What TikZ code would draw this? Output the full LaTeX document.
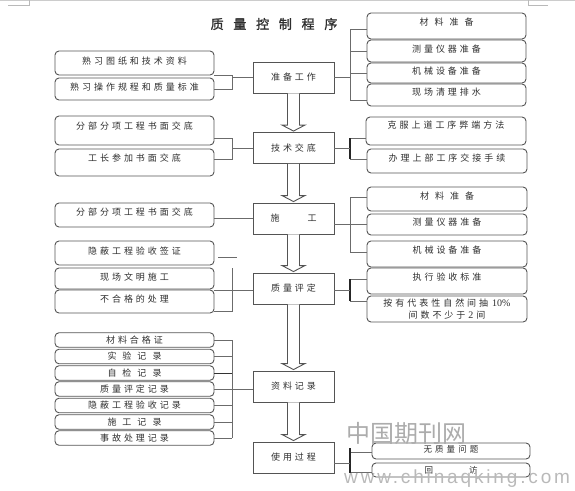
\documentclass[tikz,border=0pt]{standalone}
\usepackage{fontspec}
\usetikzlibrary{calc}
\newfontfamily\cjk[LetterSpace=33]{Noto Sans CJK SC}
\newfontfamily\cjksm[LetterSpace=36]{Noto Sans CJK SC}
\newfontfamily\cjkwm{Noto Sans CJK SC}
\newfontfamily\cjktitle[LetterSpace=75,FakeBold=1.5]{Noto Sans CJK SC}
\newfontfamily\wmfont[LetterSpace=15]{Liberation Sans}
\newfontfamily\latinnum{Liberation Serif}
\definecolor{bd}{gray}{0.33}
\definecolor{lnc}{gray}{0.42}
\definecolor{txt}{gray}{0.18}
\tikzset{
  nbox/.style={draw=bd, line width=0.9pt, inner sep=0pt, text=txt, font={\cjk\fontsize{9}{12}\selectfont}},
  rbox/.style={nbox, rounded corners=4pt},
  sbox/.style={nbox},
  wh/.style 2 args={minimum width=#1pt, minimum height=#2pt},
  tx/.style={text height=8pt, text depth=#1},
  ln/.style={draw=lnc, line width=0.8pt},
  thk/.style={draw=black!85, line width=1.4pt},
  harr/.style={draw=bd, line width=0.9pt, fill=white},
  wmk/.style={inner sep=0pt, text=gray!65},
}
\newcommand\harrowdraw[2]{%
  \draw[harr] ($(#1.south)+(-6,0)$) -- ($(#2.north)+(-6,-7)$) -- ($(#2.north)+(-11.5,-7)$)
    -- ($(#2.north)+(0,-1)$) -- ($(#2.north)+(11.5,-7)$) -- ($(#2.north)+(6,-7)$) -- ($(#1.south)+(6,0)$);}
\begin{document}
\begin{tikzpicture}[x=1pt,y=-1pt]
\useasboundingbox (0,0) rectangle (575,490);
% page marks
\draw[gray!40, line width=0.6pt] (0,0.5) -- (575,0.5);
\draw[gray!55, line width=0.6pt] (8,5) -- (29,5) -- (29,0);
\draw[gray!55, line width=0.6pt] (548,5) -- (528,5) -- (528,0);
% title
\node[inner sep=0pt, text=txt, font={\cjktitle\fontsize{13}{13}\selectfont}] (title) at (274,24) {质量控制程序};
% centre column
\node[sbox, wh={81}{31}] (c1) at (293.5,77.5) {准备工作};
\node[sbox, wh={81}{31}] (c2) at (293.5,148) {技术交底};
\node[sbox, wh={81}{31}] (c3) at (293.5,218.5) {施\hspace{28pt}工};
\node[sbox, wh={81}{31}] (c4) at (293.5,288.5) {质量评定};
\node[sbox, wh={81}{31}] (c5) at (293.5,386.5) {资料记录};
\node[sbox, wh={81}{31}] (c6) at (293.5,457.5) {使用过程};
% left column
\node[rbox, wh={159}{24}, tx=5.2pt] (l1) at (134.5,63) {熟习图纸和技术资料};
\node[rbox, wh={159}{22}, tx=5.2pt] (l2) at (134.5,89) {熟习操作规程和质量标准};
\node[rbox, wh={159}{29}, tx=10.2pt] (l3) at (134.5,130.5) {分部分项工程书面交底};
\node[rbox, wh={159}{27}, tx=10.2pt] (l4) at (134.5,162.5) {工长参加书面交底};
\node[rbox, wh={159}{24}, tx=7.2pt] (l5) at (134.5,215) {分部分项工程书面交底};
\node[rbox, wh={159}{24}, tx=5.2pt] (l6) at (134.5,253) {隐蔽工程验收签证};
\node[rbox, wh={159}{21}, tx=4.2pt] (l7) at (134.5,278.5) {现场文明施工};
\node[rbox, wh={159}{23}, tx=6.2pt] (l8) at (134.5,301.5) {不合格的处理};
% records
\node[rbox, wh={159}{14.5}, tx=1.2pt] (r1) at (134.5,340) {材料合格证};
\node[rbox, wh={159}{14.5}, tx=1.2pt] (r2) at (134.5,356.5) {实\hspace{6pt}验\hspace{6pt}记\hspace{6pt}录};
\node[rbox, wh={159}{14.5}, tx=1.2pt] (r3) at (134.5,373) {自\hspace{6pt}检\hspace{6pt}记\hspace{6pt}录};
\node[rbox, wh={159}{14.5}, tx=1.2pt] (r4) at (134.5,389) {质量评定记录};
\node[rbox, wh={159}{14.5}, tx=1.2pt] (r5) at (134.5,405.5) {隐蔽工程验收记录};
\node[rbox, wh={159}{14.5}, tx=1.2pt] (r6) at (134.5,422) {施\hspace{6pt}工\hspace{6pt}记\hspace{6pt}录};
\node[rbox, wh={159}{14.5}, tx=1.2pt] (r7) at (134.5,438) {事故处理记录};
% right column
\node[rbox, wh={159}{26}, tx=9.2pt] (p1) at (446.5,26) {材\hspace{6pt}料\hspace{6pt}准\hspace{6pt}备};
\node[rbox, wh={159}{22}, tx=5.2pt] (p2) at (446.5,51) {测量仪器准备};
\node[rbox, wh={159}{20}, tx=5.2pt] (p3) at (446.5,73) {机械设备准备};
\node[rbox, wh={159}{22}, tx=7.2pt] (p4) at (446.5,95) {现场清理排水};
\node[rbox, wh={160}{28}, tx=13.2pt] (q1) at (446,131) {克服上道工序弊端方法};
\node[rbox, wh={160}{24}, tx=7.2pt] (q2) at (447,161) {办理上部工序交接手续};
\node[rbox, wh={160}{24}, tx=7.2pt] (s1) at (447,199) {材\hspace{6pt}料\hspace{6pt}准\hspace{6pt}备};
\node[rbox, wh={160}{21}, tx=6.2pt] (s2) at (447,224.5) {测量仪器准备};
\node[rbox, wh={160}{26}, tx=9.2pt] (s3) at (447,254) {机械设备准备};
\node[rbox, wh={160}{26}, tx=9.2pt] (t1) at (447,281) {执行验收标准};
\node[rbox, wh={160}{26}, align=center] (t2) at (447,309) {按有代表性自然间抽\hspace{4pt}{\latinnum\fontsize{10}{12}\selectfont 10\%}\\间数不少于\hspace{3pt}{\latinnum\fontsize{10}{12}\selectfont 2}\hspace{3pt}间};
\node[rbox, wh={158}{16}, tx=5.2pt, font={\cjksm\fontsize{8.5}{10}\selectfont}] (u1) at (451,451) {无质量问题};
\node[rbox, wh={158}{14}, tx=1.2pt, font={\cjksm\fontsize{8.5}{10}\selectfont}] (u2) at (451,470) {回\hspace{36pt}访};
% hollow arrows
\harrowdraw{c1}{c2}
\harrowdraw{c2}{c3}
\harrowdraw{c3}{c4}
\harrowdraw{c4}{c5}
\harrowdraw{c5}{c6}
% bracket x positions
\coordinate (bxL) at (232,0);
\coordinate (bxR) at (350,0);
% left connectors
\coordinate (l1a) at ($(l1.east)+(0,12.5)$);
\draw[ln] (l1a) -| (bxL |- l2.east) -- (l2.east);
\draw[ln] (c1.west) -- (bxL |- c1.west);
\coordinate (l3a) at ($(l3.east)+(0,7.5)$);
\coordinate (l4a) at ($(l4.east)+(0,-3.5)$);
\draw[ln] (l3a) -| (bxL |- l4a) -- (l4a);
\draw[ln] (c2.west) -- (bxL |- c2.west);
\draw[ln] (l5.east |- c3.west) -- (c3.west);
\coordinate (d1) at (218,257);
\coordinate (d2) at (237,257);
\draw[ln] (d1) -- (d2);
\coordinate (l8b) at ($(l8.east)+(0,9.5)$);
\coordinate (v4top) at (232,268);
\draw[ln] (l8b) -| (v4top);
\coordinate (l8t) at ($(l8.east)+(0,-11.5)$);
\draw[ln] (l8t) -- (l8t -| c4.west);
\foreach \r in {r1,r2,r3,r4,r5,r6,r7} \draw[ln] (\r.east) -- (bxL |- \r.east);
\draw[ln] (bxL |- r1.east) -- (bxL |- r7.east);
\draw[ln] (bxL |- r4.east) -- (c5.west |- r4.east);
\draw[draw=black!80, line width=0.9pt] (r3.east) -- (bxL |- r3.east);
% right connectors
\coordinate (p1a) at ($(p1.west)+(0,3)$);
\coordinate (p4a) at ($(p4.west)+(0,5)$);
\draw[ln] (p1a) -| (bxR |- p4a) -- (p4a);
\draw[ln] (p2.west) -- (bxR |- p2.west);
\draw[ln] (p3.west) -- (bxR |- p3.west);
\draw[ln] (c1.east) -- (bxR |- c1.east);
\coordinate (q1a) at ($(q1.west)+(0,7)$);
\coordinate (q2a) at ($(q2.west)+(0,-2)$);
\draw[ln] (q1a) -- (bxR |- q1a);
\draw[ln] (q2a) -- (bxR |- q2a);
\draw[thk] (bxR |- q1a) -- (bxR |- q2a);
\draw[ln] (c2.east) -- (bxR |- c2.east);
\coordinate (s1a) at ($(s1.west)+(0,-2)$);
\coordinate (s3a) at ($(s3.west)+(0,-2)$);
\draw[ln] (s1a) -| (bxR |- s3a) -- (s3a);
\draw[ln] (c3.east |- s2.west) -- (s2.west);
\coordinate (t1a) at ($(t1.west)+(0,-2)$);
\coordinate (t2a) at ($(t2.west)+(0,-8)$);
\draw[ln] (t1a) -- (bxR |- t1a);
\draw[ln] (t2a) -- (bxR |- t2a);
\draw[thk] (bxR |- t1a) -- (bxR |- t2a);
\coordinate (c4a) at ($(c4.east)+(0,1.5)$);
\draw[ln] (c4a) -- (bxR |- c4a);
\coordinate (u1a) at ($(u1.west)+(0,1)$);
\coordinate (u2a) at ($(u2.west)+(0,2.5)$);
\draw[ln] (u1a) -- (bxR |- u1a);
\draw[ln] (u2a) -- (bxR |- u2a);
\draw[thk] ($(bxR |- u1a)+(0,-4)$) -- (bxR |- u2a);
\coordinate (c6a) at ($(c6.east)+(0,5.5)$);
\draw[ln] (c6a) -- (bxR |- c6a);
% watermark
\node[wmk, anchor=west, font={\cjkwm\fontsize{24}{24}\selectfont}] (wm1) at (346,433.5) {中国期刊网};
\node[wmk, anchor=base west, text=gray!55, font={\wmfont\fontsize{19}{19}\selectfont}] (wm2) at (344,483) {www.chinaqking.com};
\end{tikzpicture}
\end{document}
